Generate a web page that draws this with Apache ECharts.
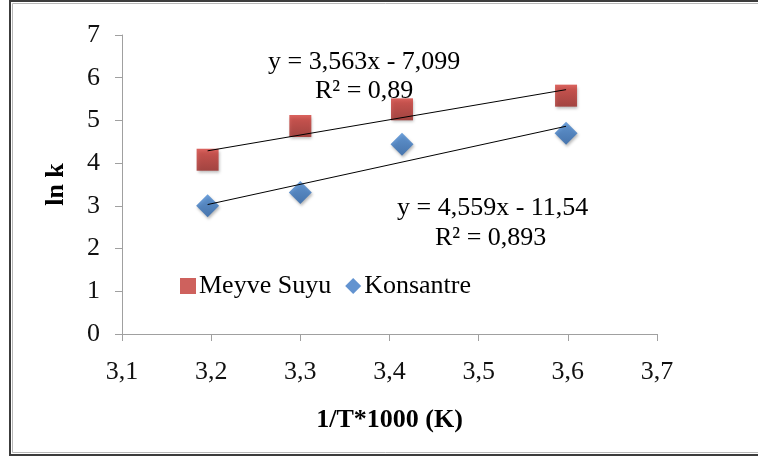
<!DOCTYPE html>
<html>
<head>
<meta charset="utf-8">
<script src="https://cdn.jsdelivr.net/npm/echarts@6/dist/echarts.min.js"></script>
<style>
  html, body { margin: 0; padding: 0; background: #fff; }
  #chart { width: 758px; height: 459px; }
</style>
</head>
<body>
<div id="chart"></div>
<script>
// 1/T*1000 values (K) shared by both samples
const invTemp = [3.196, 3.300, 3.414, 3.598];
// ln k for fruit juice and concentrate
const meyveSuyu = [4.08, 4.87, 5.26, 5.58];
const konsantre = [3.00, 3.31, 4.44, 4.70];
// linear fits: [slope, intercept, R²]
const fitMeyve = [3.563, -7.099, 0.89];
const fitKons = [4.559, -11.54, 0.893];
const xTicks = [3.1, 3.2, 3.3, 3.4, 3.5, 3.6, 3.7];
const yTicks = [0, 1, 2, 3, 4, 5, 6, 7];

const serif = '"Liberation Serif", "DejaVu Serif", serif';
const fmt = (v, d) => v.toFixed(d).replace('.', ',');

function zip(xs, ys) { return xs.map((x, i) => [x, ys[i]]); }
function fitLine(fit) {
  const lo = Math.min(...invTemp), hi = Math.max(...invTemp);
  return [[lo, fit[0] * lo + fit[1]], [hi, fit[0] * hi + fit[1]]];
}
function eqText(fit, d) {
  const b = fit[1];
  return 'y = ' + fmt(fit[0], 3) + 'x ' + (b < 0 ? '- ' : '+ ') + fmt(Math.abs(b), d);
}

const redFill = new echarts.graphic.LinearGradient(0, 0, 0, 1, [
  { offset: 0, color: '#d23c36' }, { offset: 1, color: '#9c2723' }]);
const blueFill = new echarts.graphic.LinearGradient(0, 0, 0, 1, [
  { offset: 0, color: '#4a8ad3' }, { offset: 1, color: '#2a63a9' }]);
const shadow = { shadowBlur: 3, shadowOffsetX: 1, shadowOffsetY: 2, shadowColor: 'rgba(0,0,0,0.35)' };

const chart = echarts.init(document.getElementById('chart'), null, { renderer: 'canvas' });

chart.setOption({
  animation: false,
  backgroundColor: '#fff',
  grid: { left: 122, right: 101, top: 35, bottom: 125, containLabel: false },
  legend: {
    left: 175, top: 268,
    itemWidth: 16, itemHeight: 16, itemGap: 14,
    textStyle: { fontFamily: serif, fontSize: 26, color: '#000', padding: [0, 0, 0, -2] },
    data: [
      { name: 'Meyve Suyu', icon: 'rect', itemStyle: { color: '#c23a35', shadowBlur: 0, shadowOffsetX: 0, shadowOffsetY: 0 } },
      { name: 'Konsantre', icon: 'diamond', itemStyle: { color: '#3b78c4', shadowBlur: 0, shadowOffsetX: 0, shadowOffsetY: 0 } }
    ]
  },
  xAxis: {
    type: 'value',
    min: xTicks[0], max: xTicks[xTicks.length - 1], interval: 0.1,
    name: '1/T*1000 (K)', nameLocation: 'middle', nameGap: 73,
    nameTextStyle: { fontFamily: serif, fontSize: 26, fontWeight: 'bold', color: '#000' },
    axisLine: { lineStyle: { color: '#a0a0a0', width: 1 } },
    axisTick: { show: true, length: 7, lineStyle: { color: '#a0a0a0' } },
    axisLabel: { margin: 25, fontFamily: serif, fontSize: 26, color: '#111', formatter: v => fmt(v, 1) },
    splitLine: { show: false }
  },
  yAxis: {
    type: 'value',
    min: yTicks[0], max: yTicks[yTicks.length - 1], interval: 1,
    name: 'ln k', nameLocation: 'middle', nameGap: 53, nameRotate: 90,
    nameTextStyle: { fontFamily: serif, fontSize: 26, fontWeight: 'bold', color: '#000' },
    axisLine: { show: true, lineStyle: { color: '#a0a0a0', width: 1 } },
    axisTick: { show: true, length: 7, lineStyle: { color: '#a0a0a0' } },
    axisLabel: { margin: 22, fontFamily: serif, fontSize: 26, color: '#111' },
    splitLine: { show: false }
  },
  series: [
    {
      name: 'fitMeyve', type: 'line', data: fitLine(fitMeyve), symbol: 'none', silent: true,
      lineStyle: { color: '#000', width: 1 }, z: 3
    },
    {
      name: 'fitKons', type: 'line', data: fitLine(fitKons), symbol: 'none', silent: true,
      lineStyle: { color: '#000', width: 1 }, z: 3
    },
    {
      name: 'Meyve Suyu', type: 'scatter', data: zip(invTemp, meyveSuyu),
      symbol: 'rect', symbolSize: 22, z: 2,
      itemStyle: Object.assign({ color: redFill }, shadow)
    },
    {
      name: 'Konsantre', type: 'scatter', data: zip(invTemp, konsantre),
      symbol: 'diamond', symbolSize: 23, z: 2,
      itemStyle: Object.assign({ color: blueFill }, shadow)
    }
  ],
  graphic: [
    {
      type: 'rect', silent: true, z: 100,
      shape: { x: 10, y: 1, width: 780, height: 454 },
      style: { fill: null, stroke: '#3c3c3c', lineWidth: 2 }
    },
    {
      type: 'rect', silent: true, z: 100,
      shape: { x: 12.5, y: 3.5, width: 780, height: 449 },
      style: { fill: null, stroke: '#b8b8b8', lineWidth: 1 }
    },
    {
      type: 'text', left: 268, top: 49, z: 50,
      style: { text: eqText(fitMeyve, 3), font: '26px ' + serif, fill: '#000' }
    },
    {
      type: 'text', left: 315, top: 78, z: 50,
      style: { text: 'R² = ' + fmt(fitMeyve[2], 2), font: '26px ' + serif, fill: '#000' }
    },
    {
      type: 'text', left: 397, top: 195, z: 50,
      style: { text: eqText(fitKons, 2), font: '26px ' + serif, fill: '#000' }
    },
    {
      type: 'text', left: 435, top: 225, z: 50,
      style: { text: 'R² = ' + fmt(fitKons[2], 3), font: '26px ' + serif, fill: '#000' }
    }
  ]
});
</script>
</body>
</html>
